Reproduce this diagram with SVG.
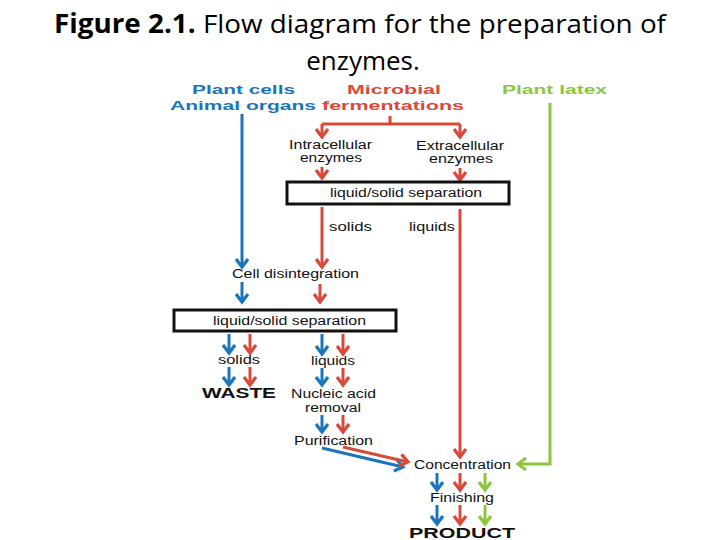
<svg xmlns="http://www.w3.org/2000/svg" width="720" height="540" viewBox="0 0 720 540">
<style>
.title{font-family:"Open Sans","Liberation Sans",sans-serif;font-size:26px;fill:#000}
.hd{font-family:"Liberation Sans",Arial,sans-serif;font-weight:bold;font-size:13px}
.lb{font-family:"Liberation Sans",Arial,sans-serif;font-size:12px;fill:#111}
.big{font-family:"Liberation Sans",Arial,sans-serif;font-weight:bold;font-size:14px;fill:#111}
.b{stroke:#1b75bb}.r{stroke:#d9493a}.g{stroke:#8cc63f}
.ln{fill:none;stroke-width:3}
.box{fill:#fff;stroke:#111;stroke-width:3}
</style>
<defs>
<marker id="ab" viewBox="-2 -8 14 16" markerWidth="14" markerHeight="16" refX="9" refY="0" orient="auto" markerUnits="userSpaceOnUse"><path d="M1,-6 L9,0 L1,6" fill="none" stroke="#1b75bb" stroke-width="3.2"/></marker>
<marker id="ar" viewBox="-2 -8 14 16" markerWidth="14" markerHeight="16" refX="9" refY="0" orient="auto" markerUnits="userSpaceOnUse"><path d="M1,-6 L9,0 L1,6" fill="none" stroke="#d9493a" stroke-width="3.2"/></marker>
<marker id="ag" viewBox="-2 -8 14 16" markerWidth="14" markerHeight="16" refX="9" refY="0" orient="auto" markerUnits="userSpaceOnUse"><path d="M1,-6 L9,0 L1,6" fill="none" stroke="#8cc63f" stroke-width="3.2"/></marker>
</defs>
<rect width="720" height="540" fill="#fff"/>
<g id="title">
<text class="title" x="360" y="33" text-anchor="middle" textLength="612" lengthAdjust="spacingAndGlyphs"><tspan font-weight="bold">Figure 2.1.</tspan> Flow diagram for the preparation of</text>
<text class="title" x="363" y="70" text-anchor="middle">enzymes.</text>
</g>
<g id="connectors">
<path class="ln b" d="M242,114 V267" marker-end="url(#ab)"/>
<path class="ln r" d="M390,116 V124 M322,124 H460"/>
<path class="ln r" d="M322,124 V137" marker-end="url(#ar)"/>
<path class="ln r" d="M460,124 V137" marker-end="url(#ar)"/>
<path class="ln r" d="M322,167 V178" marker-end="url(#ar)"/>
<path class="ln r" d="M460,168 V180" marker-end="url(#ar)"/>
<path class="ln r" d="M322,207 V267" marker-end="url(#ar)"/>
<path class="ln r" d="M460,209 V457" marker-end="url(#ar)"/>
<path class="ln g" d="M550,103 V464 H518" marker-end="url(#ag)"/>
<path class="ln b" d="M242,282 V302" marker-end="url(#ab)"/>
<path class="ln r" d="M320,284 V302" marker-end="url(#ar)"/>
<path class="ln b" d="M229,334 V353" marker-end="url(#ab)"/>
<path class="ln r" d="M250,334 V353" marker-end="url(#ar)"/>
<path class="ln b" d="M229,367 V385" marker-end="url(#ab)"/>
<path class="ln r" d="M250,367 V385" marker-end="url(#ar)"/>
<path class="ln b" d="M322,334 V354" marker-end="url(#ab)"/>
<path class="ln r" d="M343,334 V354" marker-end="url(#ar)"/>
<path class="ln b" d="M322,368 V385" marker-end="url(#ab)"/>
<path class="ln r" d="M343,368 V385" marker-end="url(#ar)"/>
<path class="ln b" d="M322,415 V432" marker-end="url(#ab)"/>
<path class="ln r" d="M343,415 V432" marker-end="url(#ar)"/>
<path class="ln b" d="M322,448 L403,467" marker-end="url(#ab)"/>
<path class="ln r" d="M343,447 L408,462" marker-end="url(#ar)"/>
<path class="ln b" d="M437,473 V490" marker-end="url(#ab)"/>
<path class="ln r" d="M460,473 V490" marker-end="url(#ar)"/>
<path class="ln g" d="M485,473 V490" marker-end="url(#ag)"/>
<path class="ln b" d="M437,505 V524" marker-end="url(#ab)"/>
<path class="ln r" d="M460,505 V524" marker-end="url(#ar)"/>
<path class="ln g" d="M485,505 V524" marker-end="url(#ag)"/>
</g>
<g id="src-plant-cells">
<text class="hd" x="192" y="94" fill="#1b75bb" textLength="103" lengthAdjust="spacingAndGlyphs">Plant cells</text>
<text class="hd" x="170" y="110" fill="#1b75bb" textLength="146" lengthAdjust="spacingAndGlyphs">Animal organs</text>
</g>
<g id="src-microbial">
<text class="hd" x="347" y="94" fill="#d9493a" textLength="94" lengthAdjust="spacingAndGlyphs">Microbial</text>
<text class="hd" x="322" y="110" fill="#d9493a" textLength="142" lengthAdjust="spacingAndGlyphs">fermentations</text>
</g>
<g id="src-latex">
<text class="hd" x="502" y="94" fill="#8cc63f" textLength="105" lengthAdjust="spacingAndGlyphs">Plant latex</text>
</g>
<g id="intracellular">
<text class="lb" x="289" y="149" textLength="83" lengthAdjust="spacingAndGlyphs">Intracellular</text>
<text class="lb" x="300" y="162" textLength="62" lengthAdjust="spacingAndGlyphs">enzymes</text>
</g>
<g id="extracellular">
<text class="lb" x="416" y="150" textLength="88" lengthAdjust="spacingAndGlyphs">Extracellular</text>
<text class="lb" x="429" y="163" textLength="64" lengthAdjust="spacingAndGlyphs">enzymes</text>
</g>
<g id="sep1">
<rect class="box" x="287" y="182" width="222" height="22"/>
<text class="lb" x="330" y="197" textLength="152" lengthAdjust="spacingAndGlyphs">liquid/solid separation</text>
</g>
<g id="solids1"><text class="lb" x="329" y="231" textLength="43" lengthAdjust="spacingAndGlyphs">solids</text></g>
<g id="liquids1"><text class="lb" x="409" y="231" textLength="46" lengthAdjust="spacingAndGlyphs">liquids</text></g>
<g id="cell-disintegration"><text class="lb" x="232" y="278" textLength="127" lengthAdjust="spacingAndGlyphs">Cell disintegration</text></g>
<g id="sep2">
<rect class="box" x="174" y="310" width="222" height="21"/>
<text class="lb" x="213" y="325" textLength="153" lengthAdjust="spacingAndGlyphs">liquid/solid separation</text>
</g>
<g id="solids2"><text class="lb" x="218" y="364" textLength="42" lengthAdjust="spacingAndGlyphs">solids</text></g>
<g id="waste"><text class="big" x="202" y="398" textLength="74" lengthAdjust="spacingAndGlyphs">WASTE</text></g>
<g id="liquids2"><text class="lb" x="311" y="365" textLength="44" lengthAdjust="spacingAndGlyphs">liquids</text></g>
<g id="nucleic">
<text class="lb" x="291" y="398" textLength="85" lengthAdjust="spacingAndGlyphs">Nucleic acid</text>
<text class="lb" x="305" y="412" textLength="56" lengthAdjust="spacingAndGlyphs">removal</text>
</g>
<g id="purification"><text class="lb" x="294" y="445" textLength="79" lengthAdjust="spacingAndGlyphs">Purification</text></g>
<g id="concentration"><text class="lb" x="414" y="469" textLength="97" lengthAdjust="spacingAndGlyphs">Concentration</text></g>
<g id="finishing"><text class="lb" x="430" y="502" textLength="64" lengthAdjust="spacingAndGlyphs">Finishing</text></g>
<g id="product"><text class="big" x="409" y="538" textLength="106" lengthAdjust="spacingAndGlyphs">PRODUCT</text></g>
</svg>
